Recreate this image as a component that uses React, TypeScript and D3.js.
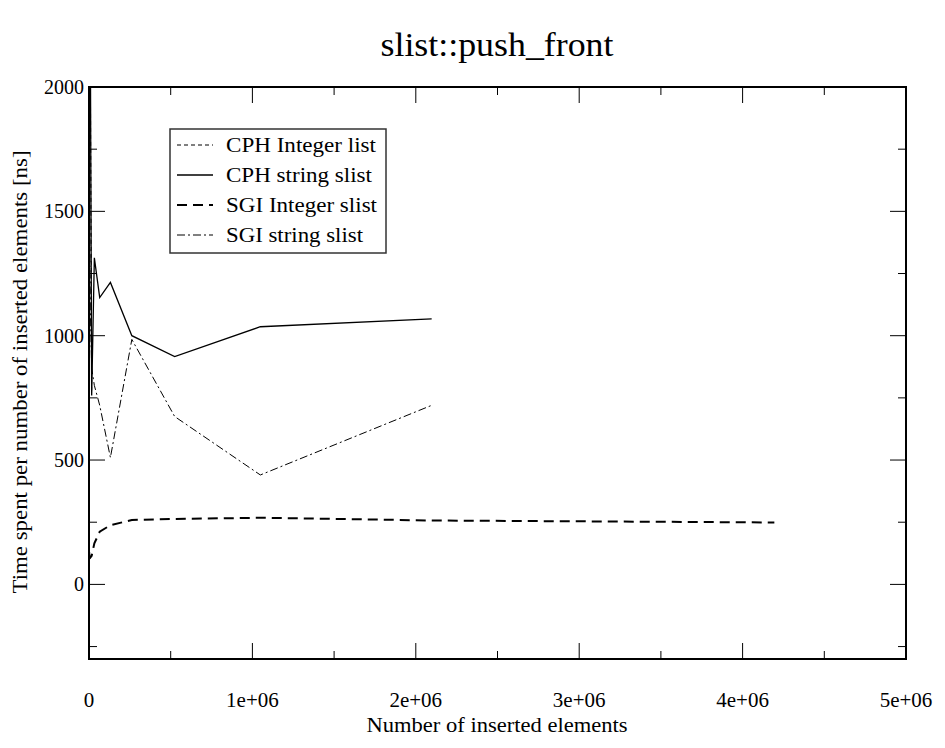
import React from "react";
import * as d3 from "d3";

const sizes = [1024, 2048, 4096, 8192, 16384, 32768, 65536, 131072, 262144, 524288, 1048576, 2097152, 4194304];

const cphIntegerList = [8000, 5000, 3000, 2100, 780];
const cphStringSlist = [6000, 4000, 3000, 2200, 760, 1313, 1153, 1214, 1000, 916, 1036, 1068];
const sgiIntegerSlist = [130, 118, 112, 108, 115, 165, 212, 238, 259, 263, 268, 257, 249];
const sgiStringSlist = [3000, 2200, 1500, 1100, 870, 800, 720, 510, 985, 675, 440, 720];

const seriesNames = ["CPH Integer list", "CPH string slist", "SGI Integer slist", "SGI string slist"];
const legendWidths = [150, 146, 151, 137];
const xTicks = [0, 1e6, 2e6, 3e6, 4e6, 5e6];
const xTickLabels = ["0", "1e+06", "2e+06", "3e+06", "4e+06", "5e+06"];
const yTicks = [0, 500, 1000, 1500, 2000];

const W = 945, H = 748;
const L = 89, R = 906, T = 87, B = 659;

export default function App() {
  const x = d3.scaleLinear().domain([0, 5e6]).range([L, R]);
  const y = d3.scaleLinear().domain([-300, 2000]).range([B, T]);
  const line = d3.line<[number, number]>().x(d => x(d[0])).y(d => y(d[1]));
  const mk = (vals: number[]) => vals.map((v, i) => [sizes[i], v] as [number, number]);

  const series = [
    { name: seriesNames[0], vals: cphIntegerList, dash: "4,3", w: 1 },
    { name: seriesNames[1], vals: cphStringSlist, dash: "", w: 1.3 },
    { name: seriesNames[2], vals: sgiIntegerSlist, dash: "10,6", w: 2 },
    { name: seriesNames[3], vals: sgiStringSlist, dash: "8,3,2,3", w: 1 },
  ];

  const xMinor = d3.range(0, 5e6 + 1, 5e5);
  const yMinor = d3.range(-250, 2001, 250);
  const font = "'Liberation Serif', 'Times New Roman', serif";

  return (
    <svg width={W} height={H} style={{ position: "absolute", left: 0, top: 0 }} fontFamily={font}>
      <rect width={W} height={H} fill="#fff" />
      <defs>
        <clipPath id="plot"><rect x={L} y={T} width={R - L} height={B - T} /></clipPath>
      </defs>
      <text x={497} y={56} fontSize={33} textAnchor="middle" textLength={233} lengthAdjust="spacingAndGlyphs">slist::push_front</text>
      {xMinor.map((v, i) => {
        const major = Math.round(v / 1e6) * 1e6 === v;
        const len = major ? 16 : 8;
        return (
          <g key={"xt" + i} stroke="#000" strokeWidth={1}>
            <line x1={x(v)} x2={x(v)} y1={B} y2={B - len} />
            <line x1={x(v)} x2={x(v)} y1={T} y2={T + len} />
          </g>
        );
      })}
      {yMinor.map((v, i) => {
        const major = v % 500 === 0;
        const len = major ? 16 : 8;
        return (
          <g key={"yt" + i} stroke="#000" strokeWidth={1}>
            <line x1={L} x2={L + len} y1={y(v)} y2={y(v)} />
            <line x1={R} x2={R - len} y1={y(v)} y2={y(v)} />
          </g>
        );
      })}
      {xTicks.map((v, i) => (
        <text key={"xl" + i} x={x(v)} y={707} fontSize={21} textAnchor="middle">{xTickLabels[i]}</text>
      ))}
      {yTicks.map((v, i) => (
        <text key={"yl" + i} x={84} y={y(v) + 7} fontSize={20} textAnchor="end">{String(v)}</text>
      ))}
      <text x={497} y={732} fontSize={21} textAnchor="middle" textLength={261} lengthAdjust="spacingAndGlyphs">Number of inserted elements</text>
      <text transform={`translate(27,${372}) rotate(-90)`} fontSize={21} textAnchor="middle" textLength={443} lengthAdjust="spacingAndGlyphs">Time spent per number of inserted elements [ns]</text>
      <g clipPath="url(#plot)" fill="none" stroke="#000">
        {series.map(s => (
          <path key={s.name} d={line(mk(s.vals)) || ""} strokeWidth={s.w} strokeDasharray={s.dash || undefined} />
        ))}
      </g>
      <rect x={L} y={T} width={R - L} height={B - T} fill="none" stroke="#000" strokeWidth={2} />
      <rect x={170} y={129} width={216} height={124} fill="#fff" stroke="#333" strokeWidth={1.5} />
      {series.map((s, i) => {
        const cy = 145 + i * 30;
        return (
          <g key={"lg" + i}>
            <line x1={177} x2={213} y1={cy} y2={cy} stroke="#000" strokeWidth={s.w} strokeDasharray={s.dash || undefined} />
            <text x={226} y={cy + 7} fontSize={21} textLength={legendWidths[i]} lengthAdjust="spacingAndGlyphs">{s.name}</text>
          </g>
        );
      })}
    </svg>
  );
}
